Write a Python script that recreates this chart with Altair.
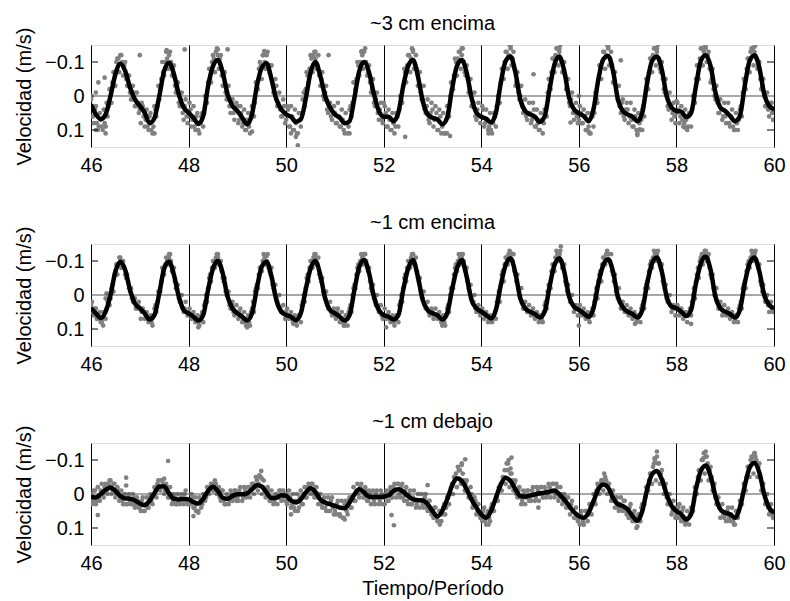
import altair as alt
import pandas as pd
import numpy as np

# ---------------- data (velocities in cm/s, converted to m/s below) ----------------
T_START = 46.0
LINE_STEP = 0.1
SCAT_STEP = 0.04
SCAT2_START = 46.02

TITLES = ["~3 cm encima", "~1 cm encima", "~1 cm debajo"]
X_TICKS = [46, 48, 50, 52, 54, 56, 58, 60]
Y_TICKS = [-0.1, 0, 0.1]

line_p1 = [
    2.5, 5.4, 6.8, 5.4, 0, -6.4, -9.5, -7.4, -2.5, 1.0,
    2.9, 4.9, 8.0, 6.5, 0, -7.4, -9.8, -6.4, -0.5, 3.4,
    4.9, 6.4, 8.2, 5.9, -2.9, -8.8, -10.6, -6.9, -0.5, 2.9,
    4.4, 6.4, 8.3, 5.4, -2.9, -8.3, -9.6, -4.9, 1.0, 3.9,
    5.4, 6.1, 7.6, 6.9, 1.0, -6.9, -10.0, -5.9, 0, 3.4,
    5.4, 6.4, 8.0, 7.4, 0.5, -7.4, -10.0, -6.9, -0.5, 4.4,
    6.1, 6.1, 7.4, 4.9, -2.9, -8.8, -10.6, -5.9, 1.5, 5.4,
    6.4, 6.9, 8.3, 6.4, -2.0, -8.8, -10.6, -6.9, 0.5, 4.9,
    6.1, 6.7, 7.8, 4.9, -3.9, -10.3, -11.6, -6.9, 1.0, 4.4,
    5.4, 6.1, 7.6, 5.9, -2.0, -9.3, -11.6, -7.4, 0.5, 3.9,
    5.1, 5.9, 7.4, 3.9, -4.9, -10.8, -11.8, -7.4, 1.0, 4.4,
    5.4, 6.1, 7.4, 4.9, -3.9, -10.3, -11.6, -7.8, 0, 3.4,
    4.4, 4.6, 6.2, 5.0, -2.9, -10.3, -12.0, -8.8, -1.0, 3.4,
    4.4, 5.9, 7.4, 5.9, -2.9, -10.3, -12.0, -8.3, -0.5, 2.9,
    3.9,
]

line_p2 = [
    3.9, 5.4, 6.8, 4.9, 0, -6.9, -9.8, -7.4, -1.5, 2.5,
    3.9, 5.4, 7.2, 5.9, -0.5, -7.8, -9.8, -5.9, 0.5, 4.4,
    5.4, 6.4, 7.5, 5.9, -1.5, -7.8, -10.0, -6.4, 0.5, 3.9,
    5.4, 6.4, 7.5, 5.4, -2.0, -8.3, -9.8, -5.4, 1.5, 4.9,
    5.9, 6.4, 7.4, 5.4, -1.5, -7.8, -10.0, -5.9, 1.0, 4.4,
    5.4, 6.4, 7.5, 5.9, -1.5, -8.3, -10.3, -6.4, 0.5, 4.4,
    5.9, 6.4, 7.2, 5.9, -1.5, -7.8, -10.3, -5.4, 1.5, 4.4,
    5.4, 5.9, 7.2, 5.4, -1.5, -7.8, -10.3, -5.4, 1.5, 3.9,
    4.9, 5.9, 6.9, 4.4, -2.9, -8.8, -10.8, -6.4, 1.0, 3.9,
    4.9, 5.6, 6.6, 4.9, -2.5, -8.8, -10.8, -6.9, 0.5, 3.4,
    4.4, 5.4, 6.4, 3.9, -3.4, -8.8, -10.5, -6.9, 0.5, 3.6,
    4.9, 5.6, 6.6, 4.4, -3.4, -9.3, -11.0, -6.9, 0.5, 3.4,
    3.9, 4.9, 6.2, 4.4, -3.4, -9.3, -11.3, -7.4, 0.5, 3.9,
    4.9, 5.6, 6.6, 4.4, -3.4, -9.3, -11.0, -6.9, 0, 2.9,
    3.9,
]

line_p3 = [
    0.9, 1.0, 0, -1.2, -1.9, -0.9, 0.6, 1.3, 1.4, 1.9,
    2.8, 3.3, 2.0, -0.2, -2.2, -2.2, -0.2, 1.4, 1.6, 1.4,
    1.6, 2.4, 2.8, 1.4, -0.9, -2.1, -0.9, 1.1, 1.4, 0.6,
    0.1, 0.1, -0.2, -1.4, -2.6, -2.2, -0.4, 1.2, 1.1, 0.4,
    0.6, 1.9, 2.5, 1.6, -0.4, -1.7, -0.6, 1.6, 2.5, 3.0,
    3.5, 4.0, 4.2, 2.5, 0.1, -1.4, -0.4, 0.8, 0.9, 0.9,
    0.8, 0.4, -0.9, -1.4, -0.6, 0.6, 1.6, 1.8, 1.9, 3.0,
    5.0, 6.6, 5.0, 1.6, -2.4, -4.6, -3.8, -1.4, 1.6, 4.0,
    6.0, 7.0, 5.0, 1.1, -2.8, -4.8, -3.8, -1.4, 0.6, 0.8,
    0.4, 0.1, -0.2, -0.4, -0.7, -1.0, 0.1, 1.6, 3.5, 5.3,
    6.5, 7.0, 5.5, 2.1, -1.4, -2.8, -1.9, 1.1, 3.0, 3.5,
    4.5, 6.5, 7.9, 5.0, -1.4, -5.8, -6.8, -4.3, 0.1, 3.5,
    5.0, 6.0, 7.5, 6.0, -1.4, -6.8, -8.4, -5.3, 0.6, 4.5,
    5.5, 6.0, 7.0, 4.0, -2.4, -7.7, -9.2, -6.3, 0.1, 4.0,
    5.5,
]

# samples at 46.00, 46.04, ...
scat_p1 = [
    1, 6, 4, 8, 9, 7, 10, 8, 2, 3, -2, -4, -7, -10, -11, -12, -10, -9, -5, -3, -1, 1, -1, 3, 2,
    4, 2, 6, 7, 9, 6, 10, 9, 4, 3, 1, -5, -7, -10, -11, -12, -10, -8, -3, -2, 2, 1, 5, 3, 6,
    6, 4, 7, 9, 6, 10, 8, 5, 5, 0, -4, -5, -10, -11, -13, -12, -11, -6, -6, -1, 0, 3, 2, 5, 4,
    3, 7, 5, 8, 10, 7, 9, 6, 3, 2, -3, -8, -9, -12, -10, -12, -8, -9, -4, -3, 1, 2, 4, 6, 3,
    7, 4, 9, 6, 10, 8, 11, 7, 5, -1, -2, -6, -8, -11, -12, -11, -9, -6, -5, 0, -1, 4, 3, 6, 5,
    5, 8, 6, 9, 7, 11, 8, 9, 3, 2, -4, -5, -9, -10, -12, -13, -10, -7, -4, -2, 2, 1, 5, 4, 7,
    6, 5, 9, 7, 10, 8, 9, 6, 4, 1, -3, -7, -9, -12, -11, -13, -9, -8, -3, -1, 1, 4, 3, 7, 5,
    4, 7, 5, 10, 6, 9, 11, 7, 5, 0, -2, -6, -10, -11, -13, -12, -10, -6, -5, -2, 3, 2, 6, 4, 6,
    6, 4, 8, 7, 9, 10, 8, 6, 3, 2, -4, -8, -10, -13, -12, -14, -11, -8, -4, -1, 0, 3, 4, 6, 5,
    5, 7, 4, 9, 8, 10, 7, 8, 4, -1, -3, -7, -11, -12, -14, -13, -10, -7, -6, -2, 2, 1, 5, 5, 6,
    7, 5, 8, 6, 10, 9, 11, 6, 5, 1, -5, -8, -10, -13, -12, -14, -11, -9, -4, -3, 1, 3, 2, 6, 4,
    4, 6, 7, 9, 6, 11, 8, 7, 3, 0, -4, -7, -11, -12, -14, -13, -11, -7, -5, -1, 0, 4, 3, 5, 6,
    5, 4, 6, 7, 8, 7, 9, 5, 4, 1, -5, -9, -11, -14, -13, -14, -12, -8, -5, -2, 1, 2, 5, 4, 6,
    6, 5, 8, 6, 9, 10, 8, 7, 3, -1, -4, -8, -11, -13, -14, -13, -11, -9, -5, -3, 0, 3, 4, 3, 5,
    4,
]
# samples at 46.02, 46.06, ...
scat2_p1 = [
    0, 8, 3, 10, 5, 9, 4, 9, 6, -2, 2, -7, -3, -11, -7, -12, -6, -10, -3, -6, 1, -3, 3, -1, 5,
    8, 3, 9, 4, 10, 5, 11, 3, 6, -3, -2, -10, -6, -13, -8, -13, -6, -9, -1, -4, 3, -1, 7, 1, 8,
    2, 9, 3, 10, 5, 11, 6, 9, 0, 2, -8, -4, -12, -7, -14, -8, -12, -3, -7, 1, -3, 5, 1, 7, 2,
    8, 3, 9, 4, 10, 5, 11, 3, 6, -4, -2, -10, -5, -12, -8, -13, -7, -9, -1, -5, 3, -1, 6, 1, 8,
    3, 9, 3, 10, 4, 11, 5, 9, 1, 3, -7, -4, -12, -7, -13, -8, -12, -3, -7, 1, -3, 5, 2, 7, 3,
    8, 2, 9, 4, 10, 5, 11, 4, 6, -4, -2, -10, -6, -13, -8, -14, -6, -9, -1, -5, 3, -1, 7, 2, 8,
    3, 9, 4, 10, 5, 11, 5, 9, 0, 2, -8, -4, -12, -7, -14, -8, -12, -3, -7, 1, -3, 5, 1, 8, 2,
    9, 3, 10, 4, 11, 5, 11, 3, 6, -4, -2, -11, -6, -13, -8, -14, -7, -9, -1, -5, 3, -1, 7, 2, 8,
    3, 9, 4, 10, 5, 11, 5, 9, 0, 2, -8, -5, -13, -8, -15, -9, -13, -3, -7, 1, -3, 5, 1, 7, 2,
    8, 2, 9, 4, 10, 5, 11, 4, 6, -5, -2, -11, -7, -14, -9, -15, -7, -10, -2, -5, 3, -1, 7, 2, 8,
    3, 8, 4, 10, 5, 11, 5, 9, -1, 2, -9, -5, -13, -8, -15, -9, -13, -4, -7, 0, -3, 5, 1, 7, 2,
    8, 2, 9, 4, 10, 5, 10, 4, 6, -5, -2, -11, -7, -14, -9, -15, -8, -10, -2, -5, 3, -1, 7, 2, 8,
    2, 8, 3, 9, 4, 10, 5, 9, 0, 2, -9, -5, -14, -9, -15, -10, -13, -4, -8, 0, -3, 5, 1, 7, 2,
    8, 2, 9, 4, 10, 5, 10, 4, 6, -5, -2, -11, -7, -14, -9, -15, -8, -10, -2, -5, 3, -1, 6, 2, 7,
]

scat_p2 = [
    3, 5, 4, 7, 6, 8, 7, 5, 4, 1, 1, -3, -6, -9, -9, -11, -9, -8, -5, -4, -1, 1, 2, 4, 3,
    4, 5, 5, 6, 7, 7, 8, 6, 3, 2, -1, -4, -7, -9, -10, -11, -10, -7, -4, -2, 1, 2, 4, 4, 5,
    5, 6, 6, 7, 7, 8, 7, 5, 3, 0, -2, -6, -8, -10, -11, -11, -9, -7, -4, -1, 0, 3, 3, 5, 5,
    5, 5, 6, 7, 8, 7, 8, 5, 2, -1, -3, -6, -8, -10, -11, -10, -8, -6, -3, -1, 1, 3, 4, 5, 5,
    5, 6, 6, 7, 7, 8, 7, 6, 3, 0, -2, -6, -8, -10, -11, -11, -9, -6, -4, -1, 1, 3, 4, 5, 5,
    6, 5, 6, 7, 8, 8, 7, 5, 3, 0, -3, -6, -9, -10, -11, -12, -10, -7, -4, -1, 1, 3, 4, 5, 6,
    6, 6, 6, 7, 7, 8, 7, 6, 3, 0, -2, -6, -8, -10, -11, -12, -9, -7, -4, -1, 1, 3, 4, 5, 5,
    5, 6, 6, 6, 7, 7, 8, 6, 3, 0, -2, -6, -9, -10, -11, -11, -10, -7, -4, -1, 1, 2, 4, 4, 5,
    5, 5, 6, 6, 7, 7, 7, 5, 2, -1, -3, -7, -9, -11, -12, -12, -10, -7, -4, -2, 1, 2, 4, 4, 5,
    5, 5, 6, 6, 6, 7, 7, 5, 2, -1, -3, -7, -9, -11, -12, -12, -10, -8, -4, -1, 0, 2, 3, 4, 4,
    4, 5, 5, 6, 6, 7, 6, 4, 2, -2, -4, -7, -9, -11, -12, -12, -10, -7, -4, -1, 1, 2, 3, 4, 5,
    5, 5, 6, 6, 6, 7, 6, 4, 2, -2, -4, -7, -10, -11, -12, -12, -10, -8, -4, -2, 1, 2, 3, 4, 4,
    4, 4, 5, 5, 6, 6, 6, 4, 2, -2, -4, -8, -10, -12, -12, -13, -11, -8, -5, -2, 0, 2, 3, 4, 5,
    5, 5, 6, 6, 6, 7, 6, 4, 2, -2, -4, -7, -10, -11, -12, -12, -10, -8, -4, -1, 0, 2, 3, 3, 4,
    4,
]
scat2_p2 = [
    2, 6, 4, 7, 5, 8, 5, 7, 2, 3, -2, -1, -7, -6, -11, -8, -10, -6, -6, -2, -2, 2, 1, 4, 2,
    7, 4, 7, 5, 8, 6, 9, 4, 5, -1, -1, -8, -6, -11, -9, -12, -7, -8, -2, -3, 2, 0, 5, 2, 6,
    4, 7, 5, 8, 6, 9, 6, 8, 2, 2, -5, -4, -10, -8, -12, -9, -10, -5, -5, 0, -1, 4, 2, 6, 3,
    7, 4, 8, 5, 9, 6, 9, 4, 5, -2, -2, -8, -7, -12, -9, -12, -7, -8, -2, -3, 2, 0, 5, 3, 7,
    4, 7, 5, 8, 6, 9, 6, 8, 2, 2, -5, -4, -10, -8, -12, -9, -11, -5, -5, 0, -1, 4, 2, 6, 4,
    7, 4, 8, 5, 9, 6, 9, 4, 5, -2, -2, -8, -7, -12, -9, -12, -8, -8, -2, -3, 2, 0, 5, 3, 7,
    4, 7, 5, 8, 6, 9, 6, 8, 2, 2, -5, -4, -10, -8, -12, -9, -11, -5, -5, 0, -1, 4, 2, 6, 4,
    7, 4, 7, 5, 8, 6, 9, 4, 5, -2, -2, -8, -7, -12, -9, -12, -8, -8, -2, -3, 2, 0, 5, 3, 6,
    4, 7, 5, 8, 6, 8, 6, 7, 1, 2, -6, -4, -11, -9, -13, -10, -12, -6, -6, 0, -2, 4, 2, 5, 3,
    6, 4, 7, 5, 8, 6, 8, 3, 4, -3, -2, -9, -7, -13, -10, -13, -8, -9, -3, -3, 2, 0, 5, 3, 6,
    3, 6, 4, 7, 5, 8, 5, 6, 0, 1, -6, -4, -11, -9, -13, -10, -12, -6, -6, 0, -2, 4, 2, 5, 3,
    6, 4, 7, 5, 8, 6, 8, 3, 4, -3, -2, -9, -8, -13, -10, -13, -9, -9, -3, -3, 2, 0, 5, 3, 6,
    3, 6, 4, 7, 5, 8, 5, 6, 0, 1, -6, -5, -11, -9, -13, -10, -12, -6, -6, 0, -2, 4, 2, 6, 3,
    6, 4, 7, 5, 8, 6, 8, 3, 4, -3, -2, -9, -8, -13, -10, -13, -9, -9, -3, -3, 2, 0, 5, 2, 5,
]

scat_p3 = [
    0, 2, -1, 2, 1, -1, 0, -2, -1, -3, -2, -1, -3, 0, -1, 1, 2, 0, 3, 1, 2, 3, 1, 3, 2,
    4, 2, 5, 3, 4, 1, 2, 0, -1, -3, -2, -4, -3, -1, -2, 1, 0, 2, 1, 3, 2, 1, 2, 0, 2,
    2, 3, 1, 4, 3, 5, 2, 3, 1, 1, -1, -2, -3, -1, -3, 0, 1, -1, 2, 3, 1, 2, 0, 1, -1,
    1, -1, 0, 1, -1, 0, -2, -1, -3, -2, -4, -3, -5, -2, -1, 0, -1, 2, 1, 2, 0, 1, -1, 1, 0,
    0, 2, 1, 3, 4, 2, 5, 1, 3, 0, 1, -2, -1, -3, 0, -2, 1, 0, 3, 2, 4, 3, 5, 2, 4,
    5, 3, 6, 4, 7, 3, 5, 2, 4, 1, 2, -1, 0, -2, -1, 1, -1, 2, 0, 1, 2, 0, 1, 2, 0,
    1, 0, 2, -1, 1, -2, -1, -3, 0, -2, 1, -1, 2, 0, 3, 1, 2, 3, 0, 2, 3, 1, 4, 2, 5,
    6, 4, 7, 8, 5, 6, 3, 4, 1, 0, -3, -5, -6, -8, -7, -9, -4, -3, -1, 1, 0, 3, 2, 5, 6,
    7, 5, 8, 6, 7, 4, 5, 2, 1, -2, -3, -5, -7, -9, -10, -6, -4, -3, 0, -1, 1, 2, 0, 1, -1,
    1, -1, 0, 1, -1, 0, -2, 1, -1, 0, -2, -1, -3, 0, -2, 1, 0, 2, 1, 3, 4, 3, 5, 7, 6,
    7, 6, 8, 7, 5, 6, 4, 3, 2, -1, -2, -3, -4, -6, -4, -3, -1, 1, 2, 1, 4, 3, 4, 2, 5,
    5, 4, 7, 6, 8, 7, 8, 4, 3, 1, -2, -4, -6, -8, -10, -11, -9, -6, -4, -2, 1, 2, 3, 5, 4,
    6, 4, 7, 5, 8, 8, 7, 6, 5, 2, -2, -5, -7, -10, -12, -11, -9, -7, -5, -2, 1, 3, 4, 5, 6,
    6, 5, 7, 6, 8, 7, 6, 5, 3, 0, -3, -5, -8, -10, -11, -12, -10, -8, -5, -3, 0, 2, 4, 5, 6,
    5,
]
scat2_p3 = [
    3, -1, 3, -2, 2, -3, 1, -3, 0, -4, 0, -3, 1, -2, 2, -1, 3, 0, 3, 0, 3, 0, 4, 1, 4,
    5, 1, 5, 1, 4, 0, 3, -2, 1, -4, -1, -4, 0, -3, 1, -2, 3, 0, 3, 0, 3, 0, 3, -1, 3,
    3, 0, 4, 1, 5, 1, 4, 0, 2, -2, 0, -3, -1, -4, 0, -2, 2, -1, 3, 0, 3, -1, 2, -1, 2,
    2, -2, 2, -2, 1, -2, 1, -3, 0, -5, -1, -5, 0, -4, 1, -2, 2, -1, 3, 0, 3, -1, 2, -1, 2,
    3, -1, 4, 0, 5, 0, 4, -1, 3, -2, 1, -3, 0, -3, 1, -2, 3, 0, 4, 1, 5, 1, 5, 1, 6,
    6, 2, 6, 2, 7, 2, 6, 1, 4, -2, 2, -3, 1, -3, 1, -2, 2, -1, 3, -1, 3, -1, 3, -1, 3,
    3, -1, 2, -2, 1, -3, 1, -3, 1, -3, 2, -2, 3, -1, 3, -1, 4, 0, 4, 0, 4, 0, 5, 2, 6,
    7, 4, 8, 5, 8, 4, 6, 1, 3, -2, 0, -4, -2, -7, -3, -6, -1, -4, 1, -2, 4, 1, 6, 3, 7,
    8, 4, 9, 5, 8, 3, 5, 1, 2, -2, -1, -5, -3, -7, -2, -6, -1, -4, 1, -2, 3, -1, 3, -1, 2,
    2, -2, 2, -2, 2, -2, 1, -2, 1, -3, 1, -3, 1, -3, 2, -2, 3, 0, 4, 1, 6, 2, 7, 4, 8,
    9, 5, 9, 5, 8, 3, 6, 0, 3, -3, 0, -4, -1, -5, 0, -3, 2, -1, 4, 1, 5, 1, 5, 2, 6,
    7, 3, 8, 5, 10, 6, 8, 3, 3, -2, -1, -6, -3, -9, -4, -9, -3, -7, 0, -3, 3, 0, 6, 2, 7,
    7, 3, 8, 4, 9, 5, 9, 4, 5, -2, 0, -7, -4, -10, -6, -11, -4, -8, -1, -3, 3, 1, 7, 3, 7,
    8, 4, 8, 4, 9, 5, 7, 2, 3, -3, -1, -8, -5, -11, -6, -11, -5, -9, -1, -3, 3, 0, 6, 3, 7,
]

# isolated points far from the main cloud: times and velocities (cm/s)
out_t1 = [47.0, 47.92, 48.8, 50.24, 46.28, 50.87, 52.44, 53.36, 55.07, 56.86, 57.25, 58.17,
          55.83, 57.3, 46.3, 46.1, 47.3, 49.3, 50.1, 50.2, 51.3, 53.3, 54.15, 56.2, 57.2,
          47.55, 48.6, 49.55, 50.6, 51.55, 52.6, 53.6, 54.6, 55.6, 56.6, 57.6, 58.6, 59.6,
          46.15, 46.1, 49.8, 52.0, 56.0, 58.0, 59.95]
out_v1 = [-12, -13.7, -13.7, 14.5, -5.4, -12, 12, 11.8, -6.4, -10.5, 9.8, 9.3,
          7.8, 10, 11, 10, 11, 10.5, 11, 12, 11, 11, 11, 10.5, 11.5,
          -13.5, -13.7, -13.2, -13, -13.2, -13.5, -14, -14.7, -14, -14.5, -14, -14.8, -14.5,
          -4, -1, -3, 2, 0, 1.5, 2]
out_t2 = [55.63, 56.0, 46.3, 46.32, 52.6, 47.6, 53.2, 52.05, 58.3, 57.15, 46.25, 48.2,
          49.2, 50.15, 51.2, 54.6, 55.6, 56.6, 57.6, 58.6, 59.6, 48.6, 49.6, 50.6, 51.6, 53.6]
out_v2 = [-14.3, 9, 1, -0.5, -12, -12, 9, 9.5, 8.5, 8.5, 9, 9.5,
          9.5, 8.5, 9, -12.5, -12, -12, -12.5, -12.8, -12.5, -12, -11.5, -12, -12, -12]
out_t3 = [47.58, 46.14, 46.72, 46.72, 47.5, 49.49, 49.45, 52.16, 52.21, 52.9, 53.67, 53.6,
          53.55, 54.62, 54.55, 54.6, 55.17, 57.6, 57.55, 58.6, 58.55, 59.6, 59.55, 51.2,
          51.1, 50.1, 53.15, 54.15, 56.1, 57.2, 59.2, 58.2, 48.2, 46.4, 49.5, 48.1, 48.15]
out_v3 = [-9.7, 6.2, -4.8, -2.5, -4.5, -6.8, -5.5, 6.2, 9.2, -2.6, -10.2, -8.5,
          -7, -10.7, -9, -7.5, 4, -12.5, -10.5, -12.5, -10.5, -12, -10.5, 7.5,
          6.5, 6, 9, 9, 9, 9.5, 9, 8.5, 5.5, -4, -4.5, 6.5, 5]

# ---------------- styling ----------------
FONT = "Liberation Sans"
W, H = 683, 102


def panel(title, line_vals, s1, s2, out_t, out_v, xtitle):
    df_line = pd.DataFrame({
        "t": T_START + LINE_STEP * np.arange(len(line_vals)),
        "v": np.array(line_vals, dtype=float) / 100.0,
    })
    t_all = np.concatenate([
        T_START + SCAT_STEP * np.arange(len(s1)),
        SCAT2_START + SCAT_STEP * np.arange(len(s2)),
        np.array(out_t, dtype=float),
    ])
    v_all = np.concatenate([
        np.array(s1, dtype=float), np.array(s2, dtype=float), np.array(out_v, dtype=float)
    ]) / 100.0
    df_sc = pd.DataFrame({"t": t_all, "v": v_all})
    df_zero = pd.DataFrame({"v": [0.0]})
    df_ticks = pd.DataFrame({"v": [-0.1, 0.1]})
    df_title = pd.DataFrame({"label": [title]})

    xs = alt.Scale(domain=[46, 60], nice=False, zero=False)
    ys = alt.Scale(domain=[-0.15, 0.15], reverse=True, nice=False, zero=False)

    xaxis = alt.Axis(values=X_TICKS, format="d", grid=True, gridColor="black",
                     gridOpacity=1, gridWidth=1, ticks=False, tickSize=0, domain=False,
                     labelFontSize=20, labelPadding=8, labelColor="black", labelFont=FONT,
                     labelFlush=False,
                     title=xtitle if xtitle else None, titleFontSize=20,
                     titleFontWeight="normal", titleFont=FONT, titleColor="black",
                     titlePadding=5)
    yaxis = alt.Axis(values=Y_TICKS, format="~g", grid=False, ticks=False, tickSize=0,
                     domain=False, labelFontSize=20, labelPadding=7, labelColor="black",
                     labelFont=FONT, labelFlush=False, title="Velocidad (m/s)",
                     titleFontSize=20, titleFontWeight="normal", titleFont=FONT,
                     titleColor="black", titlePadding=10)

    pts = alt.Chart(df_sc).mark_circle(size=22, color="#808080", opacity=1, clip=True).encode(
        x=alt.X("t:Q", scale=xs, axis=xaxis),
        y=alt.Y("v:Q", scale=ys, axis=yaxis),
    )
    zero = alt.Chart(df_zero).mark_rule(color="#505050", strokeWidth=1.2).encode(y="v:Q")
    tick_l = alt.Chart(df_ticks).mark_rule(color="black", strokeWidth=1).encode(
        y="v:Q", x=alt.value(0), x2=alt.value(7))
    tick_r = alt.Chart(df_ticks).mark_rule(color="black", strokeWidth=1).encode(
        y="v:Q", x=alt.value(W - 7), x2=alt.value(W))
    line = alt.Chart(df_line).mark_line(color="black", strokeWidth=4.5,
                                        interpolate="monotone", clip=True).encode(
        x="t:Q", y="v:Q")
    ttl = alt.Chart(df_title).mark_text(fontSize=20, font=FONT, color="black",
                                        align="center", baseline="alphabetic").encode(
        text="label:N", x=alt.value(W / 2), y=alt.value(-15))

    return alt.layer(pts, zero, tick_l, tick_r, line, ttl).properties(width=W, height=H)


p1 = panel(TITLES[0], line_p1, scat_p1, scat2_p1, out_t1, out_v1, None)
p2 = panel(TITLES[1], line_p2, scat_p2, scat2_p2, out_t2, out_v2, None)
p3 = panel(TITLES[2], line_p3, scat_p3, scat2_p3, out_t3, out_v3, "Tiempo/Período")

chart = alt.vconcat(p1, p2, p3, spacing=36).properties(
    padding={"left": 14, "top": 13, "right": 4, "bottom": 2},
    background="white",
).configure_view(stroke="black", strokeWidth=1.5).configure(font=FONT)

chart.save("out.html", embed_options={"renderer": "svg", "actions": False})
